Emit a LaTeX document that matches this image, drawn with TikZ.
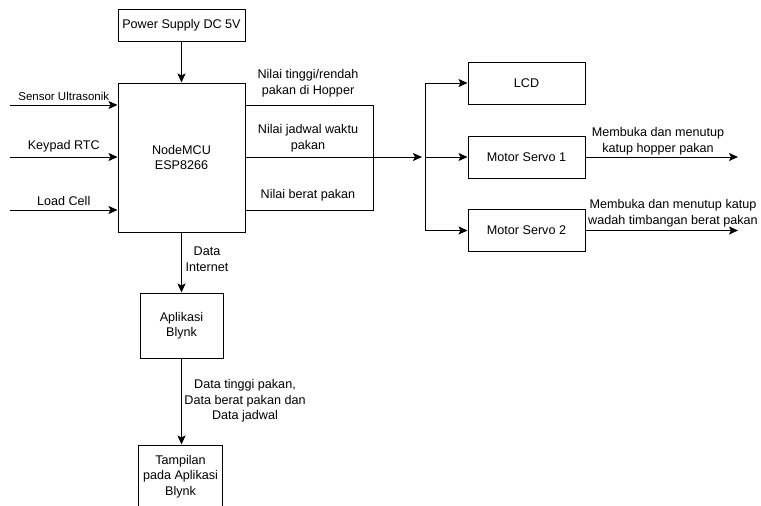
\documentclass[tikz,border=0pt]{standalone}
\usepackage{fontspec}
\setmainfont{Liberation Sans}
\usepackage{tikz}
\usetikzlibrary{arrows.meta}

\begin{document}
\begin{tikzpicture}[
            x=1pt, y=-1pt,
            blk/.style={draw=black, line width=1pt, align=center, inner sep=0pt, font=\fontsize{12.6}{15.5}\selectfont},
            lbl/.style={align=center, inner sep=0pt, font=\fontsize{12.6}{15.5}\selectfont},
            arr/.style={line width=1pt, -{Stealth[length=9pt, width=8pt, inset=2pt]}},
            wire/.style={line width=1pt}
        ]
            \useasboundingbox (0,0) rectangle (761,506);
            % Power Supply
            \node[blk, minimum width=127pt, minimum height=32pt] (psu) at (181.5,25.5) {Power Supply DC 5V};
            % NodeMCU
            \node[blk, minimum width=127pt, minimum height=149pt] (mcu) at (181.5,157.5) {NodeMCU\\ESP8266};
            % outputs
            \node[blk, minimum width=117pt, minimum height=42pt] (lcd) at (526.5,83) {LCD};
            \node[blk, minimum width=117pt, minimum height=42pt] (servoA) at (526.5,157) {Motor Servo 1};
            \node[blk, minimum width=117pt, minimum height=42pt] (servoB) at (526.5,230.5) {Motor Servo 2};
            % Blynk
            \node[blk, minimum width=83pt, minimum height=65pt] (blynk) at (181.5,325.5) {Aplikasi\\Blynk};
            \node[blk, minimum width=84pt, minimum height=63pt] (view) at (180.5,476.5) {Tampilan\\pada Aplikasi\\Blynk};

            % input lines
            \coordinate (inUS) at (10,105);
            \coordinate (inKP) at (10,157);
            \coordinate (inLC) at (10,210);
            \draw[arr] (inUS) -- node[lbl, above=4pt, font=\fontsize{11.5}{14}\selectfont] (lblUS) {Sensor Ultrasonik} (inUS -| mcu.west);
            \draw[arr] (inKP) -- node[lbl, above=4pt] (lblKP) {Keypad RTC} (inKP -| mcu.west);
            \draw[arr] (inLC) -- node[lbl, above=4pt] (lblLC) {Load Cell} (inLC -| mcu.west);
            \draw[arr] (psu) -- (mcu);

            % data bus to the right
            \coordinate (busT) at (373,105);
            \coordinate (busB) at (373,210);
            \coordinate (jn) at (422,157);
            \draw[wire] (mcu.east |- busT) -- (busT) -- (busB) -- (mcu.east |- busB);
            \draw[arr] (mcu.east |- jn) -- (jn);
            \node[lbl] (lblHop) at (308,83) {Nilai tinggi/rendah\\pakan di Hopper};
            \node[lbl] (lblJdw) at (308,138) {Nilai jadwal waktu\\pakan};
            \node[lbl] (lblBrt) at (308,195) {Nilai berat pakan};

            % split to LCD and servos
            \coordinate (splitT) at (425,83);
            \coordinate (splitB) at (425,230.5);
            \draw[wire] (splitT) -- (splitB);
            \draw[arr] (splitT) -- (lcd.west);
            \draw[arr] (splitT |- servoA.west) -- (servoA.west);
            \draw[arr] (splitB) -- (servoB.west);

            % servo actions
            \coordinate (outA) at (738,157);
            \coordinate (outB) at (738,230.5);
            \draw[arr] (servoA.east) -- (outA);
            \draw[arr] (servoB.east) -- (outB);
            \node[lbl] (lblA) at (658,141) {Membuka dan menutup\\katup hopper pakan};
            \node[lbl] (lblB) at (673,213) {Membuka dan menutup katup\\wadah timbangan berat pakan};

            % Blynk chain
            \draw[arr] (mcu.south) -- (blynk.north);
            \node[lbl] (lblNet) at (207,259) {Data\\Internet};
            \draw[arr] (blynk.south) -- (view.north -| blynk.south);
            \node[lbl] (lblView) at (245,401) {Data tinggi pakan,\\Data berat pakan dan\\Data jadwal};
        \end{tikzpicture}
\end{document}
